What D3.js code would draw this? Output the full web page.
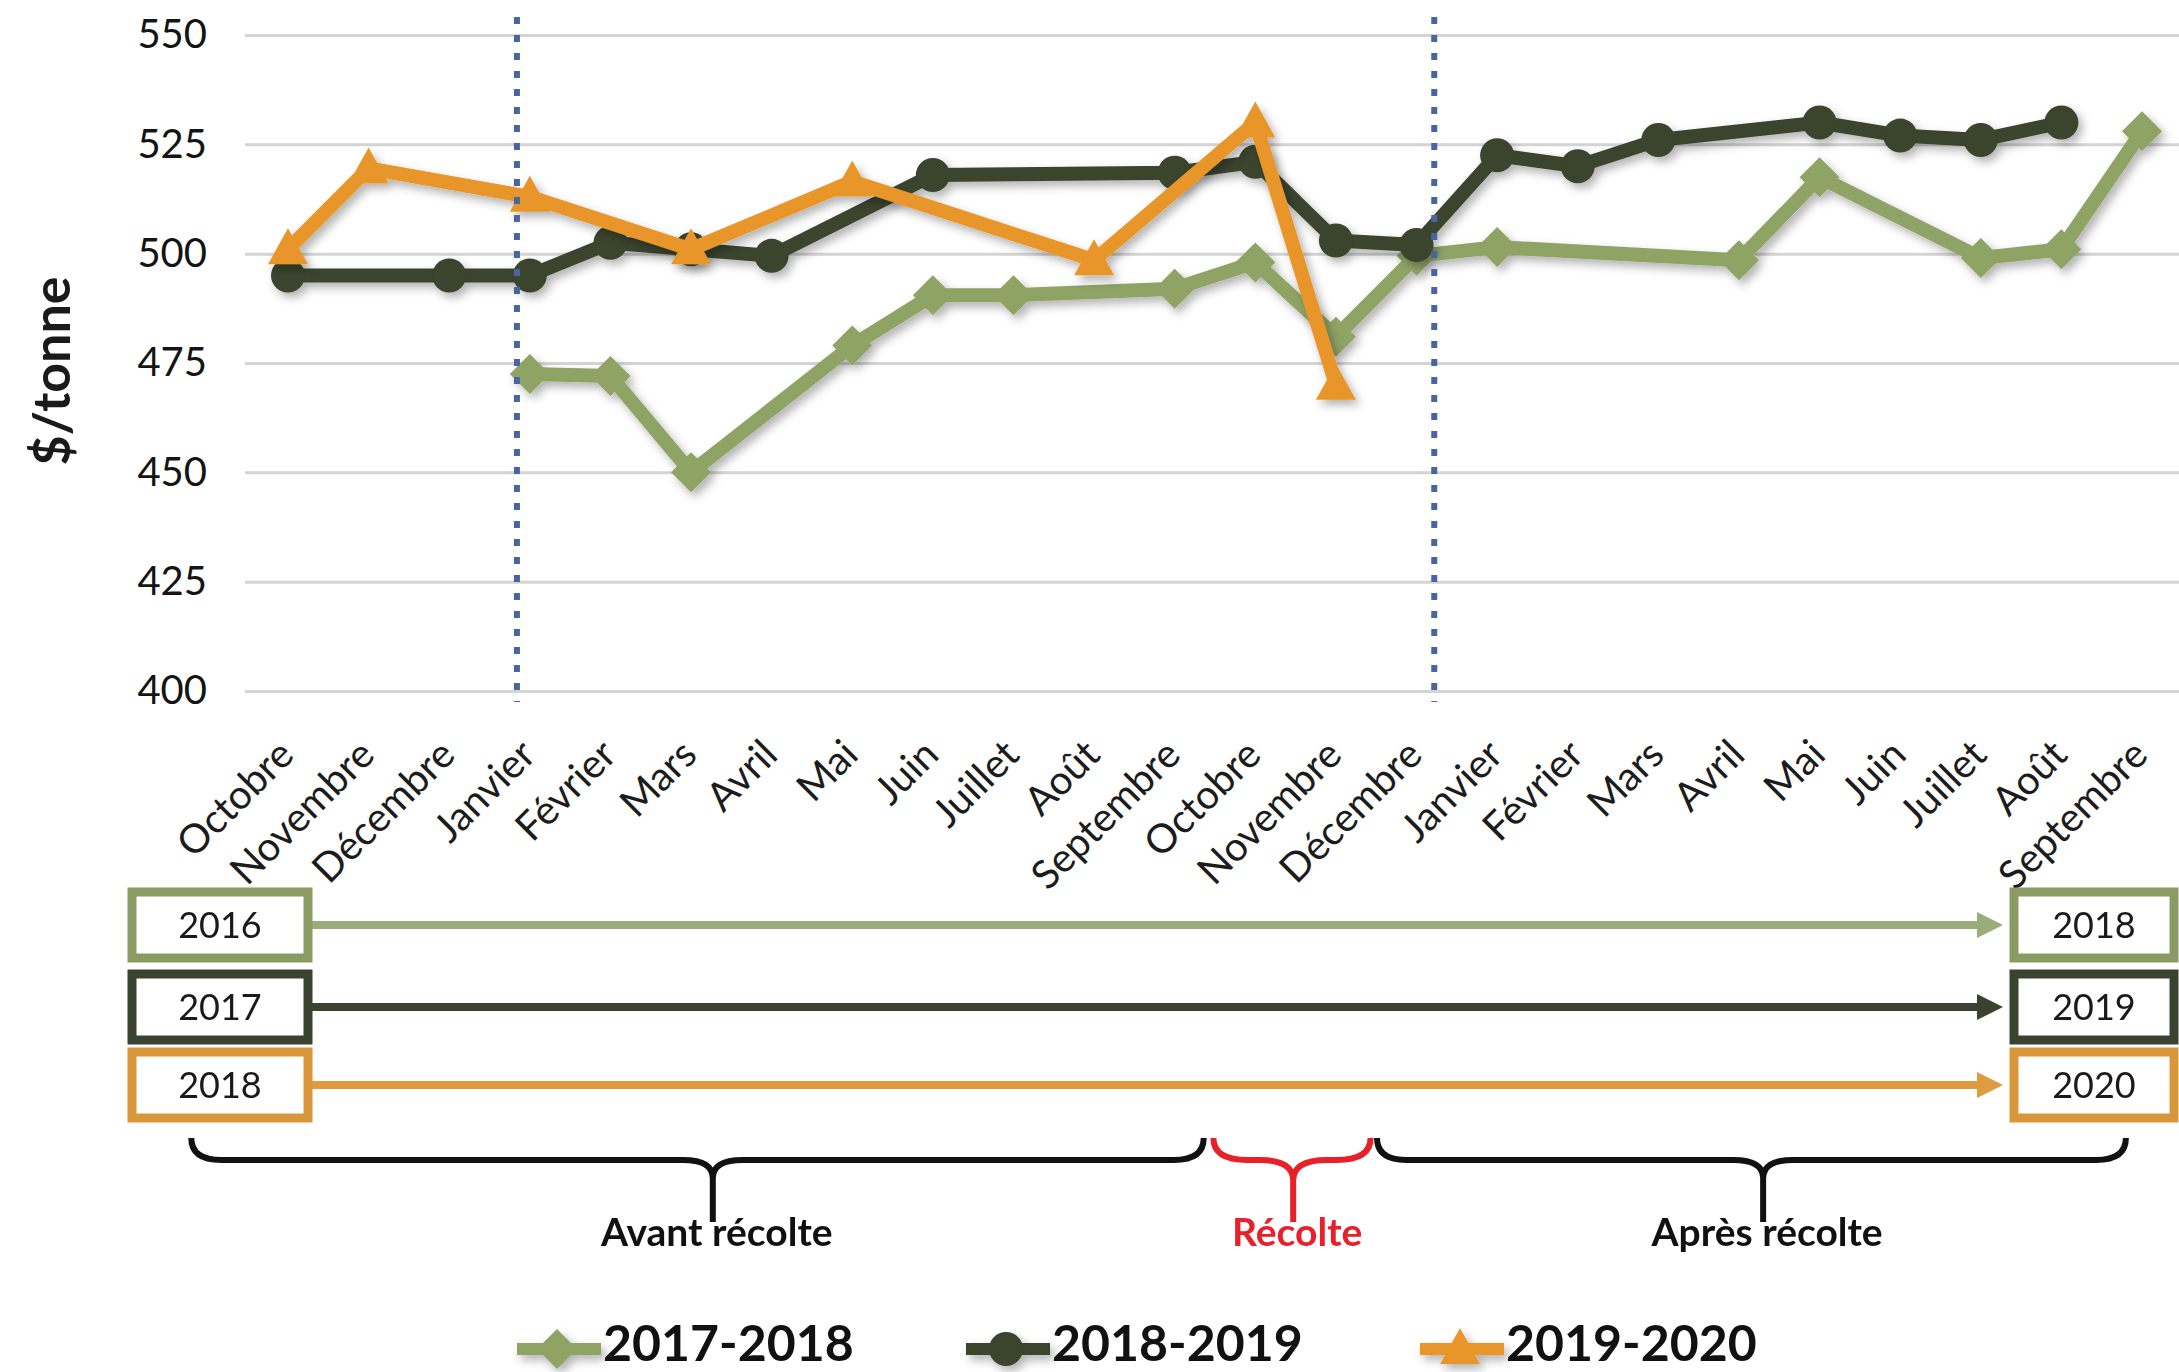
<!DOCTYPE html>
<html>
<head>
<meta charset="utf-8">
<script src="https://d3js.org/d3.v7.min.js"></script>
<style>
  html, body { margin: 0; padding: 0; background: #fff; }
  svg { display: block; font-family: Lato, "Open Sans", sans-serif; }
</style>
</head>
<body>
<div id="chart"></div>
<script>
// ---- données ----
var months = ["Octobre","Novembre","Décembre","Janvier","Février","Mars","Avril","Mai","Juin","Juillet","Août","Septembre",
              "Octobre","Novembre","Décembre","Janvier","Février","Mars","Avril","Mai","Juin","Juillet","Août","Septembre"];
var yTicks = [400, 425, 450, 475, 500, 525, 550];

var s2017_2018 = [null,null,null,472.5,472,450,null,479,490.5,490.5,null,492,498,481,499.5,501.5,null,null,498.5,517.5,null,499,501,528];
var s2018_2019 = [495,null,495,495,502.5,501,499.5,null,518,null,null,518.5,521,503,502,522.5,520,526,null,530,527,526,530,null];
var s2019_2020 = [501,519.5,null,513,null,501,null,516.5,null,null,498.5,null,530,470,null,null,null,null,null,null,null,null,null,null];

var seriesNames = ["2017-2018", "2018-2019", "2019-2020"];
var seriesColors = ["#8FA365", "#3A442D", "#E8962A"];
var seriesMarkers = ["diamond", "circle", "triangle"];
var startYears = ["2016", "2017", "2018"];
var endYears = ["2018", "2019", "2020"];
var boxColors = ["#8C9B64", "#3A4230", "#D9963A"];
var arrowColors = ["#9AAD78", "#3A4230", "#DE9B40"];
var periods = ["Avant récolte", "Récolte", "Après récolte"];
var periodColors = ["#111", "#E8202A", "#111"];

var W = 2179, H = 1372;

var svg = d3.select("#chart").append("svg")
    .attr("width", W)
    .attr("height", H);

svg.append("rect").attr("width", W).attr("height", H).attr("fill", "#fff");

var defs = svg.append("defs");
defs.append("filter")
    .attr("id", "shadow")
    .attr("x", "-10%").attr("y", "-10%")
    .attr("width", "120%").attr("height", "130%")
  .append("feDropShadow")
    .attr("dx", 4).attr("dy", 5)
    .attr("stdDeviation", 5)
    .attr("flood-color", "#000")
    .attr("flood-opacity", 0.3);

// echelles
var x = d3.scaleLinear().domain([0, 23]).range([288, 2142]);
var y = d3.scaleLinear().domain([400, 550]).range([691, 35]);

// grille + axe Y
var yAxis = svg.append("g")
    .attr("transform", "translate(245,0)")
    .call(d3.axisLeft(y).tickValues(yTicks).tickSize(-(W - 245)).tickPadding(38));
yAxis.select(".domain").remove();
yAxis.selectAll(".tick line").attr("stroke", "#d4d4d4").attr("stroke-width", 3);
yAxis.selectAll(".tick text")
    .attr("font-family", "Lato, sans-serif")
    .attr("font-size", 40)
    .attr("fill", "#141414");

// titre axe Y
svg.append("text")
    .attr("transform", "translate(70,371) rotate(-90)")
    .attr("text-anchor", "middle")
    .attr("font-size", 52)
    .attr("font-weight", "bold")
    .attr("fill", "#1a1a1a")
    .text("$/tonne");

// etiquettes des mois
svg.append("g").selectAll("text")
    .data(months)
    .enter().append("text")
    .attr("transform", function(d, i) { return "translate(" + (x(i) + 8) + ",757) rotate(-45)"; })
    .attr("text-anchor", "end")
    .attr("font-size", 40)
    .attr("fill", "#1c1c1c")
    .text(function(d) { return d; });

// formes des marqueurs
function markerPath(type) {
  if (type === "diamond") return "M0,-20L20,0L0,20L-20,0Z";
  if (type === "triangle") return "M0,-21L20,15L-20,15Z";
  return d3.symbol().type(d3.symbolCircle).size(Math.PI * 17 * 17)();
}

var allSeries = [s2017_2018, s2018_2019, s2019_2020];
var line = d3.line()
    .x(function(d) { return x(d.i); })
    .y(function(d) { return y(d.v); });

allSeries.forEach(function(vals, k) {
  var pts = [];
  vals.forEach(function(v, i) { if (v !== null) pts.push({i: i, v: v}); });
  var g = svg.append("g").attr("filter", "url(#shadow)");
  g.append("path")
      .datum(pts)
      .attr("d", line)
      .attr("fill", "none")
      .attr("stroke", seriesColors[k])
      .attr("stroke-width", 14)
      .attr("stroke-linejoin", "round");
  g.selectAll(".pt")
      .data(pts)
      .enter().append("path")
      .attr("class", "pt")
      .attr("transform", function(d) { return "translate(" + x(d.i) + "," + y(d.v) + ")"; })
      .attr("d", markerPath(seriesMarkers[k]))
      .attr("fill", seriesColors[k]);
});

// lignes pointillees
[2.84, 14.22].forEach(function(p) {
  svg.append("line")
      .attr("x1", x(p)).attr("x2", x(p))
      .attr("y1", 17).attr("y2", 702)
      .attr("stroke", "#4A64A0")
      .attr("stroke-width", 6)
      .attr("stroke-dasharray", "7,11");
});

// boites annees + fleches
var boxCy = [925, 1007, 1085];
startYears.forEach(function(yr, k) {
  var cy = boxCy[k];
  svg.append("line")
      .attr("x1", 312).attr("x2", 1980)
      .attr("y1", cy).attr("y2", cy)
      .attr("stroke", arrowColors[k])
      .attr("stroke-width", 8);
  svg.append("path")
      .attr("d", "M1977," + (cy - 13) + "L2003," + cy + "L1977," + (cy + 13) + "Z")
      .attr("fill", arrowColors[k]);
  [[132, yr], [2014, endYears[k]]].forEach(function(b) {
    svg.append("rect")
        .attr("x", b[0]).attr("y", cy - 33)
        .attr("width", b[0] < 1000 ? 176 : 160).attr("height", 66)
        .attr("fill", "#fff")
        .attr("stroke", boxColors[k])
        .attr("stroke-width", 9);
    svg.append("text")
        .attr("x", b[0] + (b[0] < 1000 ? 88 : 80)).attr("y", cy)
        .attr("dy", "0.36em")
        .attr("text-anchor", "middle")
        .attr("font-size", 36)
        .attr("fill", "#1a1a1a")
        .text(b[1]);
  });
});

// accolades
function brace(x0, x1, xc, yBar, r, tip) {
  var yTop = yBar - 22;
  return "M" + x0 + "," + yTop +
         "Q" + x0 + "," + yBar + " " + (x0 + r) + "," + yBar +
         "L" + (xc - r) + "," + yBar +
         "Q" + xc + "," + yBar + " " + xc + "," + (yBar + r * 0.6) +
         "L" + xc + "," + tip +
         "M" + xc + "," + (yBar + r * 0.6) +
         "Q" + xc + "," + yBar + " " + (xc + r) + "," + yBar +
         "L" + (x1 - r) + "," + yBar +
         "Q" + x1 + "," + yBar + " " + x1 + "," + yTop;
}
var braceSpans = [[-1.2, 11.36, 5.27], [11.48, 13.43, 12.47], [13.51, 22.8, 18.3]];
braceSpans.forEach(function(s, k) {
  var r = k === 1 ? 34 : 30;
  svg.append("path")
      .attr("d", brace(x(s[0]), x(s[1]), x(s[2]), 1160, r, 1222))
      .attr("fill", "none")
      .attr("stroke", periodColors[k])
      .attr("stroke-width", 6);
  svg.append("text")
      .attr("x", x(s[2]) + 4).attr("y", 1246)
      .attr("text-anchor", "middle")
      .attr("font-size", 39)
      .attr("font-weight", "bold")
      .attr("fill", periodColors[k])
      .text(periods[k]);
});

// legende
var legX = [517, 966, 1420];
seriesNames.forEach(function(name, k) {
  var lg = svg.append("g").attr("filter", "url(#shadow)");
  lg.append("line")
      .attr("x1", legX[k]).attr("x2", legX[k] + 84)
      .attr("y1", 1349).attr("y2", 1349)
      .attr("stroke", seriesColors[k])
      .attr("stroke-width", 12);
  lg.append("path")
      .attr("transform", "translate(" + (legX[k] + 40) + ",1349)")
      .attr("d", markerPath(seriesMarkers[k]))
      .attr("fill", seriesColors[k]);
  svg.append("text")
      .attr("x", legX[k] + 86).attr("y", 1361)
      .attr("font-size", 50)
      .attr("font-weight", "bold")
      .attr("fill", "#111")
      .text(name);
});
</script>
</body>
</html>
